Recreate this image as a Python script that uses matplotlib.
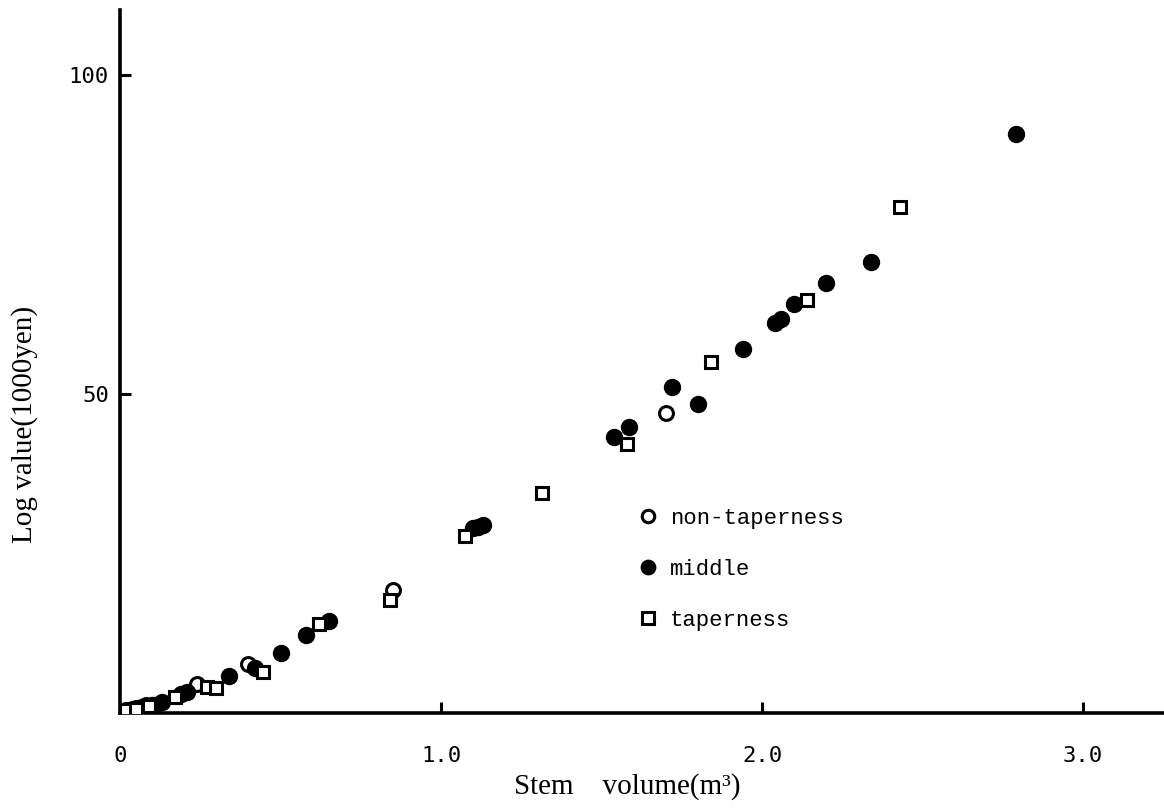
import matplotlib.pyplot as plt
import numpy as np

# Data
x_non = [0.02, 0.05, 0.08, 0.24, 0.40, 0.85, 1.70]
y_non = [0.4, 0.8, 1.2, 4.5, 7.7, 19.3, 47.0]

x_mid = [0.01, 0.03, 0.04, 0.06, 0.07, 0.09, 0.10, 0.11, 0.13, 0.19, 0.21,
         0.34, 0.42, 0.50, 0.58, 0.65, 1.10, 1.115, 1.13, 1.54, 1.585,
         1.72, 1.80, 1.94, 2.04, 2.06, 2.10, 2.20, 2.34, 2.79]
y_mid = [0.3, 0.5, 0.6, 0.8, 0.9, 1.0, 1.2, 1.3, 1.7, 3.0, 3.3,
         5.8, 7.1, 9.4, 12.2, 14.4, 29.0, 29.2, 29.5, 43.3, 44.8,
         51.1, 48.4, 57.0, 61.1, 61.8, 64.1, 67.4, 70.7, 90.7]

x_tap = [0.02, 0.05, 0.09, 0.17, 0.27, 0.30, 0.445, 0.62, 0.84, 1.075,
         1.315, 1.58, 1.84, 2.14, 2.43]
y_tap = [0.5, 0.7, 1.1, 2.5, 4.1, 3.9, 6.4, 13.9, 17.7, 27.7,
         34.5, 42.2, 55.0, 64.7, 79.3]

mono = 'DejaVu Sans Mono'
courier = 'Liberation Mono'
serif = 'Liberation Serif'

fig = plt.figure(figsize=(11.64, 8.11), dpi=100)
ax = fig.add_axes([0.1031, 0.1208, 0.8969, 0.8668])

ax.plot(x_non, y_non, 'o', ms=10, mfc='white', mec='black', mew=2.2,
        label='non-taperness', zorder=3)
ax.plot(x_mid, y_mid, 'o', ms=11.5, color='black', label='middle', zorder=3)
ax.plot(x_tap, y_tap, 's', ms=9, mfc='white', mec='black', mew=2.2,
        label='taperness', zorder=3)

ax.set_xlim(0, 3.252)
ax.set_ylim(0, 110.2)

for s in ['top', 'right']:
    ax.spines[s].set_visible(False)
for s in ['left', 'bottom']:
    ax.spines[s].set_linewidth(2.6)

ax.set_xticks([0, 1.0, 2.0, 3.0])
ax.set_xticklabels(['0', '1.0', '2.0', '3.0'], fontfamily=mono, fontsize=16)
ax.set_yticks([50, 100])
ax.set_yticklabels(['50', '100'], fontfamily=mono, fontsize=16)
ax.tick_params(axis='both', direction='in', length=8, width=2.2)
ax.tick_params(axis='x', pad=24)
ax.tick_params(axis='y', pad=8)

ax.set_xlabel('Stem    volume(m³)', fontfamily=serif, fontsize=21)
ax.xaxis.set_label_coords(0.486, -0.086)
ax.set_ylabel('Log value(1000yen)', fontfamily=serif, fontsize=21)
ax.yaxis.set_label_coords(-0.079, 0.41)

ax.legend(loc='upper left', bbox_to_anchor=(0.476, 0.32), frameon=False,
          prop={'family': courier, 'size': 16}, handletextpad=0.5,
          labelspacing=1.35, markerscale=0.9, handlelength=1.0)

fig.savefig('out.png', dpi=100)
